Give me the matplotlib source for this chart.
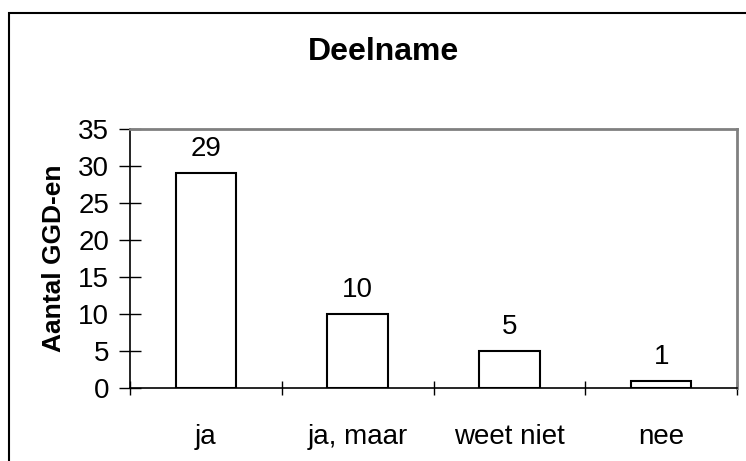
import matplotlib
matplotlib.use("Agg")
import matplotlib.pyplot as plt
from matplotlib.patches import Rectangle

categories = ["ja", "ja, maar", "weet niet", "nee"]
values = [29, 10, 5, 1]
yticks = [0, 5, 10, 15, 20, 25, 30, 35]

plt.rcParams['font.family'] = ['Liberation Sans', 'DejaVu Sans']

W, H = 746, 461
fig = plt.figure(figsize=(W/100, H/100), dpi=100)
ax = fig.add_axes([130/W, 1-388/H, (737-130)/W, (388-129)/H])

x = list(range(len(categories)))
bars = ax.bar(x, values, width=0.4, color="white", edgecolor="black", linewidth=1.5, zorder=3)
for xi, v in zip(x, values):
    ax.text(xi, v + 1.5, str(v), ha="center", va="bottom", fontsize=20)

ax.set_xlim(-0.5, len(categories) - 0.5)
ax.set_ylim(0, 35)
ax.set_yticks(yticks)
ax.set_yticklabels([str(t) for t in yticks], fontsize=20)
ax.set_xticks(x)
ax.set_xticklabels(categories, fontsize=20)
ax.tick_params(axis="x", which="major", length=0, pad=26)
ax.set_xticks([i + 0.5 for i in range(-1, len(categories))], minor=True)
ax.tick_params(axis="x", which="minor", length=10, direction="inout", width=1)
ax.tick_params(axis="y", length=16, direction="inout", width=1, pad=7)

for s in ["top", "right"]:
    ax.spines[s].set_color("#808080")
    ax.spines[s].set_linewidth(2)
for s in ["left", "bottom"]:
    ax.spines[s].set_color("black")
    ax.spines[s].set_linewidth(1.2)

ax.set_ylabel("Aantal GGD-en", fontsize=19, fontweight="bold", labelpad=9)
fig.text(383/W, 1-52/H, "Deelname", ha="center", va="center", fontsize=23, fontweight="bold")

fig.patches.append(Rectangle((9/W, -0.1), 1.2, 1-13/H+0.1, transform=fig.transFigure,
                             fill=False, edgecolor="black", linewidth=1.5))

fig.savefig("out.png", dpi=100)
